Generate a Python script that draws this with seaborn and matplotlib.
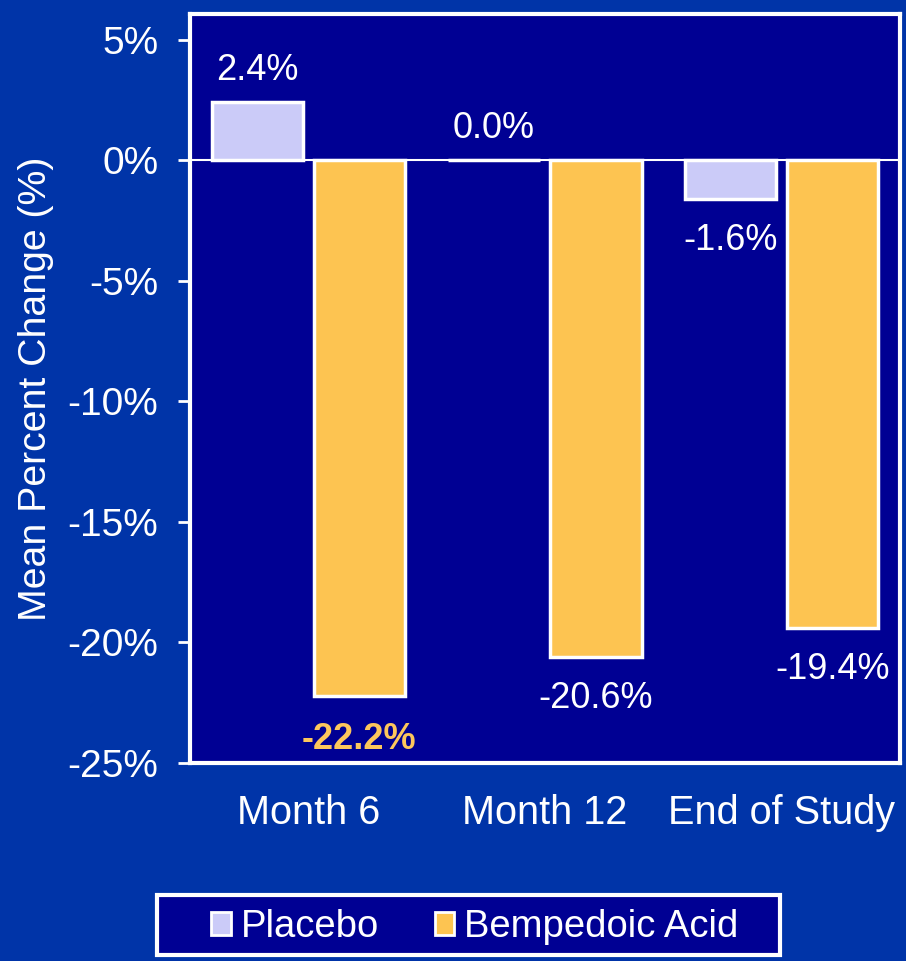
import pandas as pd
import matplotlib.pyplot as plt
import seaborn as sns
from matplotlib.patches import Rectangle

# ------------------------
# Data
# ------------------------
timepoints = ["Month 6", "Month 12", "End of Study"]
placebo = [2.4, 0.0, -1.6]
bempedoic = [-22.2, -20.6, -19.4]
groups = ["Placebo", "Bempedoic Acid"]
y_ticks = [5, 0, -5, -10, -15, -20, -25]

df = pd.DataFrame({
    "Timepoint": timepoints * 2,
    "Group": [groups[0]] * 3 + [groups[1]] * 3,
    "Change": placebo + bempedoic,
})

# ------------------------
# Style
# ------------------------
fig_bg = "#0034A8"
ax_bg = "#000093"
bar_colors = {"Placebo": "#CBCBF8", "Bempedoic Acid": "#FDC451"}
gold_text = "#FCC65C"

sns.set_style("white")
plt.rcParams["font.family"] = ["Liberation Sans", "DejaVu Sans"]

fig = plt.figure(figsize=(9.06, 9.61), dpi=100, facecolor=fig_bg)
ax = fig.add_axes([0.21, 0.206, 0.783, 0.779])
ax.set_facecolor(ax_bg)

sns.barplot(
    data=df,
    x="Timepoint",
    y="Change",
    hue="Group",
    palette=bar_colors,
    width=0.86,
    gap=0.1,
    edgecolor="white",
    linewidth=2.5,
    saturation=1,
    ax=ax,
)

ax.axhline(0, color="white", linewidth=1.5, zorder=0.5)

ax.set_xlim(-0.5, 2.5)
ax.set_ylim(-25, 6.05)
ax.set_yticks(y_ticks)
ax.set_yticklabels([f"{t}%" for t in y_ticks])

for side in ["top", "right", "bottom", "left"]:
    ax.spines[side].set_color("white")
    ax.spines[side].set_linewidth(3)

ax.tick_params(axis="y", colors="white", labelsize=28, length=9, width=2,
               direction="out", left=True, pad=14)
ax.tick_params(axis="x", colors="white", labelsize=28.5, length=0, pad=22)
ax.set_xlabel("")
ax.set_ylabel("Mean Percent Change (%)", color="white", fontsize=28.3, labelpad=10)

# ------------------------
# Bar value labels
# ------------------------
bars = [p for p in ax.patches if p.get_width() > 0]
values = placebo + bempedoic
for p, v in zip(bars, values):
    x = p.get_x() + p.get_width() / 2
    if v >= 0:
        off = 23
    else:
        off = -30
    color = "white"
    weight = "normal"
    if v == min(values):
        color = gold_text
        weight = "bold"
        off = -32
    ax.annotate(f"{v:.1f}%", (x, v), xytext=(0, off), textcoords="offset points",
                ha="center", va="center", color=color, fontsize=26,
                fontweight=weight)

# ------------------------
# Legend
# ------------------------
W, H = 906, 961
box = Rectangle((157 / W, 1 - 955 / H), (780 - 157) / W, 60 / H,
                transform=fig.transFigure, facecolor=ax_bg,
                edgecolor="white", linewidth=3, zorder=0)
fig.patches.append(box)

handles, labels = ax.get_legend_handles_labels()
ax.get_legend().remove()
leg = fig.legend(
    handles, labels,
    loc="center", bbox_to_anchor=(475 / W, 1 - 927 / H),
    ncol=2, fontsize=27.5, frameon=False,
    handlelength=0.52, handleheight=0.52, handletextpad=0.26,
    columnspacing=1.45, borderpad=0, borderaxespad=0,
)
for t in leg.get_texts():
    t.set_color("white")
for h in leg.legend_handles:
    h.set_edgecolor("white")
    h.set_linewidth(2)

fig.savefig("out.png", dpi=100, facecolor=fig_bg)
